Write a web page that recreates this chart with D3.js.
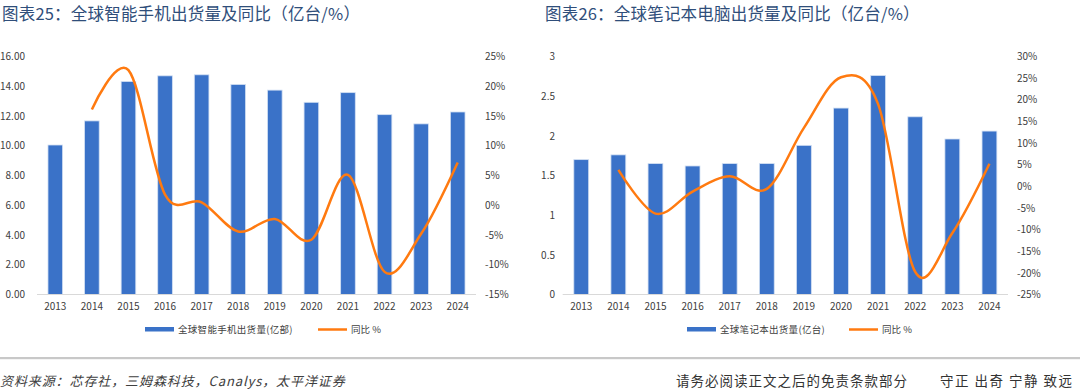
<!DOCTYPE html>
<html><head><meta charset="utf-8">
<script src="https://cdn.jsdelivr.net/npm/d3@7"></script>
<style>
html,body{margin:0;padding:0;background:#fff;}
svg{display:block;}
</style></head>
<body>
<svg id="c" width="1080" height="392"></svg>
<script>
const years = ["2013","2014","2015","2016","2017","2018","2019","2020","2021","2022","2023","2024"];
const phoneShip = [10.05, 11.67, 14.32, 14.70, 14.77, 14.12, 13.74, 12.92, 13.57, 12.09, 11.47, 12.27];
const phoneYoY = [null, 16.1, 22.7, 1.8, 0.5, -4.4, -2.3, -5.8, 5.1, -11.2, -4.8, 7.2];
const laptopShip = [1.70, 1.76, 1.65, 1.62, 1.65, 1.65, 1.88, 2.35, 2.76, 2.24, 1.96, 2.06];
const laptopYoY = [null, 3.8, -6.3, -1.2, 2.3, -0.6, 13.5, 25.2, 19.0, -19.8, -10.8, 5.2];
const phoneLeftTicks = [0,2,4,6,8,10,12,14,16];
const phoneRightTicks = [-15,-10,-5,0,5,10,15,20,25];
const laptopLeftTicks = [0,0.5,1,1.5,2,2.5,3];
const laptopRightTicks = [-25,-20,-15,-10,-5,0,5,10,15,20,25,30];
const titles = ["图表25：全球智能手机出货量及同比（亿台/%）","图表26：全球笔记本电脑出货量及同比（亿台/%）"];
const legendBars = ["全球智能手机出货量(亿部)","全球笔记本出货量(亿台)"];
const legendLine = "同比 %";
const sourceText = "资料来源：芯存社，三姆森科技，Canalys，太平洋证券";
const disclaimer = "请务必阅读正文之后的免责条款部分";
const motto = "守正 出奇 宁静 致远";

const svg = d3.select("#c");
const BAR = "#3a72c8", LINE = "#ff7a10", TXT = "#404040", TITLE = "#2f4e7a";
const tickFont = "'Noto Sans CJK SC', sans-serif";

function chart(cfg){
  const g = svg.append("g");
  const x = d3.scaleBand().domain(years).range(cfg.xr).paddingInner(0.6).paddingOuter(0.3);
  const yL = d3.scaleLinear().domain(cfg.lDom).range([294.5, 56.5]);
  const yR = d3.scaleLinear().domain(cfg.rDom).range([294.5, 56.5]);

  g.append("text").attr("x", cfg.titleX).attr("y", 20).attr("fill", TITLE)
    .style("font-family", tickFont).style("font-size", "16.5px").style("letter-spacing","0.2px").text(cfg.title);

  g.selectAll("rect.bar").data(cfg.bars).join("rect").attr("class","bar")
    .attr("x", (d,i)=>x(years[i])).attr("width", x.bandwidth())
    .attr("y", d=>yL(d)).attr("height", d=>yL(0)-yL(d))
    .attr("fill", BAR).attr("stroke","#d3e0f3").attr("stroke-width",0.8);

  g.append("line").attr("x1", cfg.xr[0]).attr("x2", cfg.xr[1]).attr("y1", 294.5).attr("y2", 294.5)
    .attr("stroke", "#d9d9d9").attr("stroke-width", 1);

  const axL = d3.axisLeft(yL).tickValues(cfg.lTicks).tickSize(0).tickPadding(0).tickFormat(cfg.lFmt);
  const gl = g.append("g").attr("transform", `translate(${cfg.lLabelX},0)`).call(axL);
  gl.select(".domain").remove();
  gl.selectAll("text").attr("fill", TXT).style("font-family", tickFont).style("font-size","10px");

  const axR = d3.axisRight(yR).tickValues(cfg.rTicks).tickSize(0).tickPadding(0).tickFormat(d=>d+"%");
  const gr = g.append("g").attr("transform", `translate(${cfg.rLabelX},0)`).call(axR);
  gr.select(".domain").remove();
  gr.selectAll("text").attr("fill", TXT).style("font-family", tickFont).style("font-size","10px");

  const axB = d3.axisBottom(x).tickSize(0).tickPadding(8);
  const gb = g.append("g").attr("transform", "translate(0,294.5)").call(axB);
  gb.select(".domain").remove();
  gb.selectAll("text").attr("fill", TXT).style("font-family", tickFont).style("font-size","10px");

  const pts = cfg.yoy.map((v,i)=>({v, i})).filter(d=>d.v!==null);
  const line = d3.line().x(d=>x(years[d.i]) + x.bandwidth()/2).y(d=>yR(d.v)).curve(d3.curveCardinal.tension(0));
  g.append("path").datum(pts).attr("d", line).attr("fill","none").attr("stroke", LINE).attr("stroke-width", 2.5);

  // legend
  const lg = g.append("g");
  lg.append("rect").attr("x", cfg.legX).attr("y", 327).attr("width", 29).attr("height", 4.5).attr("fill", BAR);
  lg.append("text").attr("x", cfg.legX + 33).attr("y", 332.5).attr("fill", TXT)
    .style("font-family", tickFont).style("font-size","9.5px").style("letter-spacing","0.3px").text(cfg.legBar);
  lg.append("line").attr("x1", cfg.legX2).attr("x2", cfg.legX2 + 29).attr("y1", 329.5).attr("y2", 329.5)
    .attr("stroke", LINE).attr("stroke-width", 2.5);
  lg.append("text").attr("x", cfg.legX2 + 33).attr("y", 332.5).attr("fill", TXT)
    .style("font-family", tickFont).style("font-size","9.5px").text(legendLine);
}

chart({xr:[37,476], lDom:[0,16], rDom:[-15,25], lTicks:phoneLeftTicks, rTicks:phoneRightTicks,
  lFmt:d=>d3.format(".2f")(d), lLabelX:25, rLabelX:485, bars:phoneShip, yoy:phoneYoY,
  title:titles[0], titleX:2, legBar:legendBars[0], legX:145, legX2:318});
chart({xr:[562.7,1008], lDom:[0,3], rDom:[-25,30], lTicks:laptopLeftTicks, rTicks:laptopRightTicks,
  lFmt:d=>String(d), lLabelX:555, rLabelX:1017, bars:laptopShip, yoy:laptopYoY,
  title:titles[1], titleX:545, legBar:legendBars[1], legX:687, legX2:849});

svg.append("rect").attr("x",0).attr("y",357).attr("width",1080).attr("height",2.2).attr("fill","#c8c8c8");
svg.append("text").attr("x",0).attr("y",385.5).attr("fill","#404040").style("font-family",tickFont)
  .style("font-size","13px").style("font-style","italic").style("letter-spacing","0.9px").text(sourceText);
svg.append("text").attr("x",676).attr("y",386).attr("fill","#333").style("font-family",tickFont)
  .style("font-size","13.5px").style("letter-spacing","1px").text(disclaimer);
svg.append("text").attr("x",940).attr("y",386).attr("fill","#333").style("font-family",tickFont)
  .style("font-size","13.5px").style("letter-spacing","1.5px").text(motto);
</script>
</body></html>
